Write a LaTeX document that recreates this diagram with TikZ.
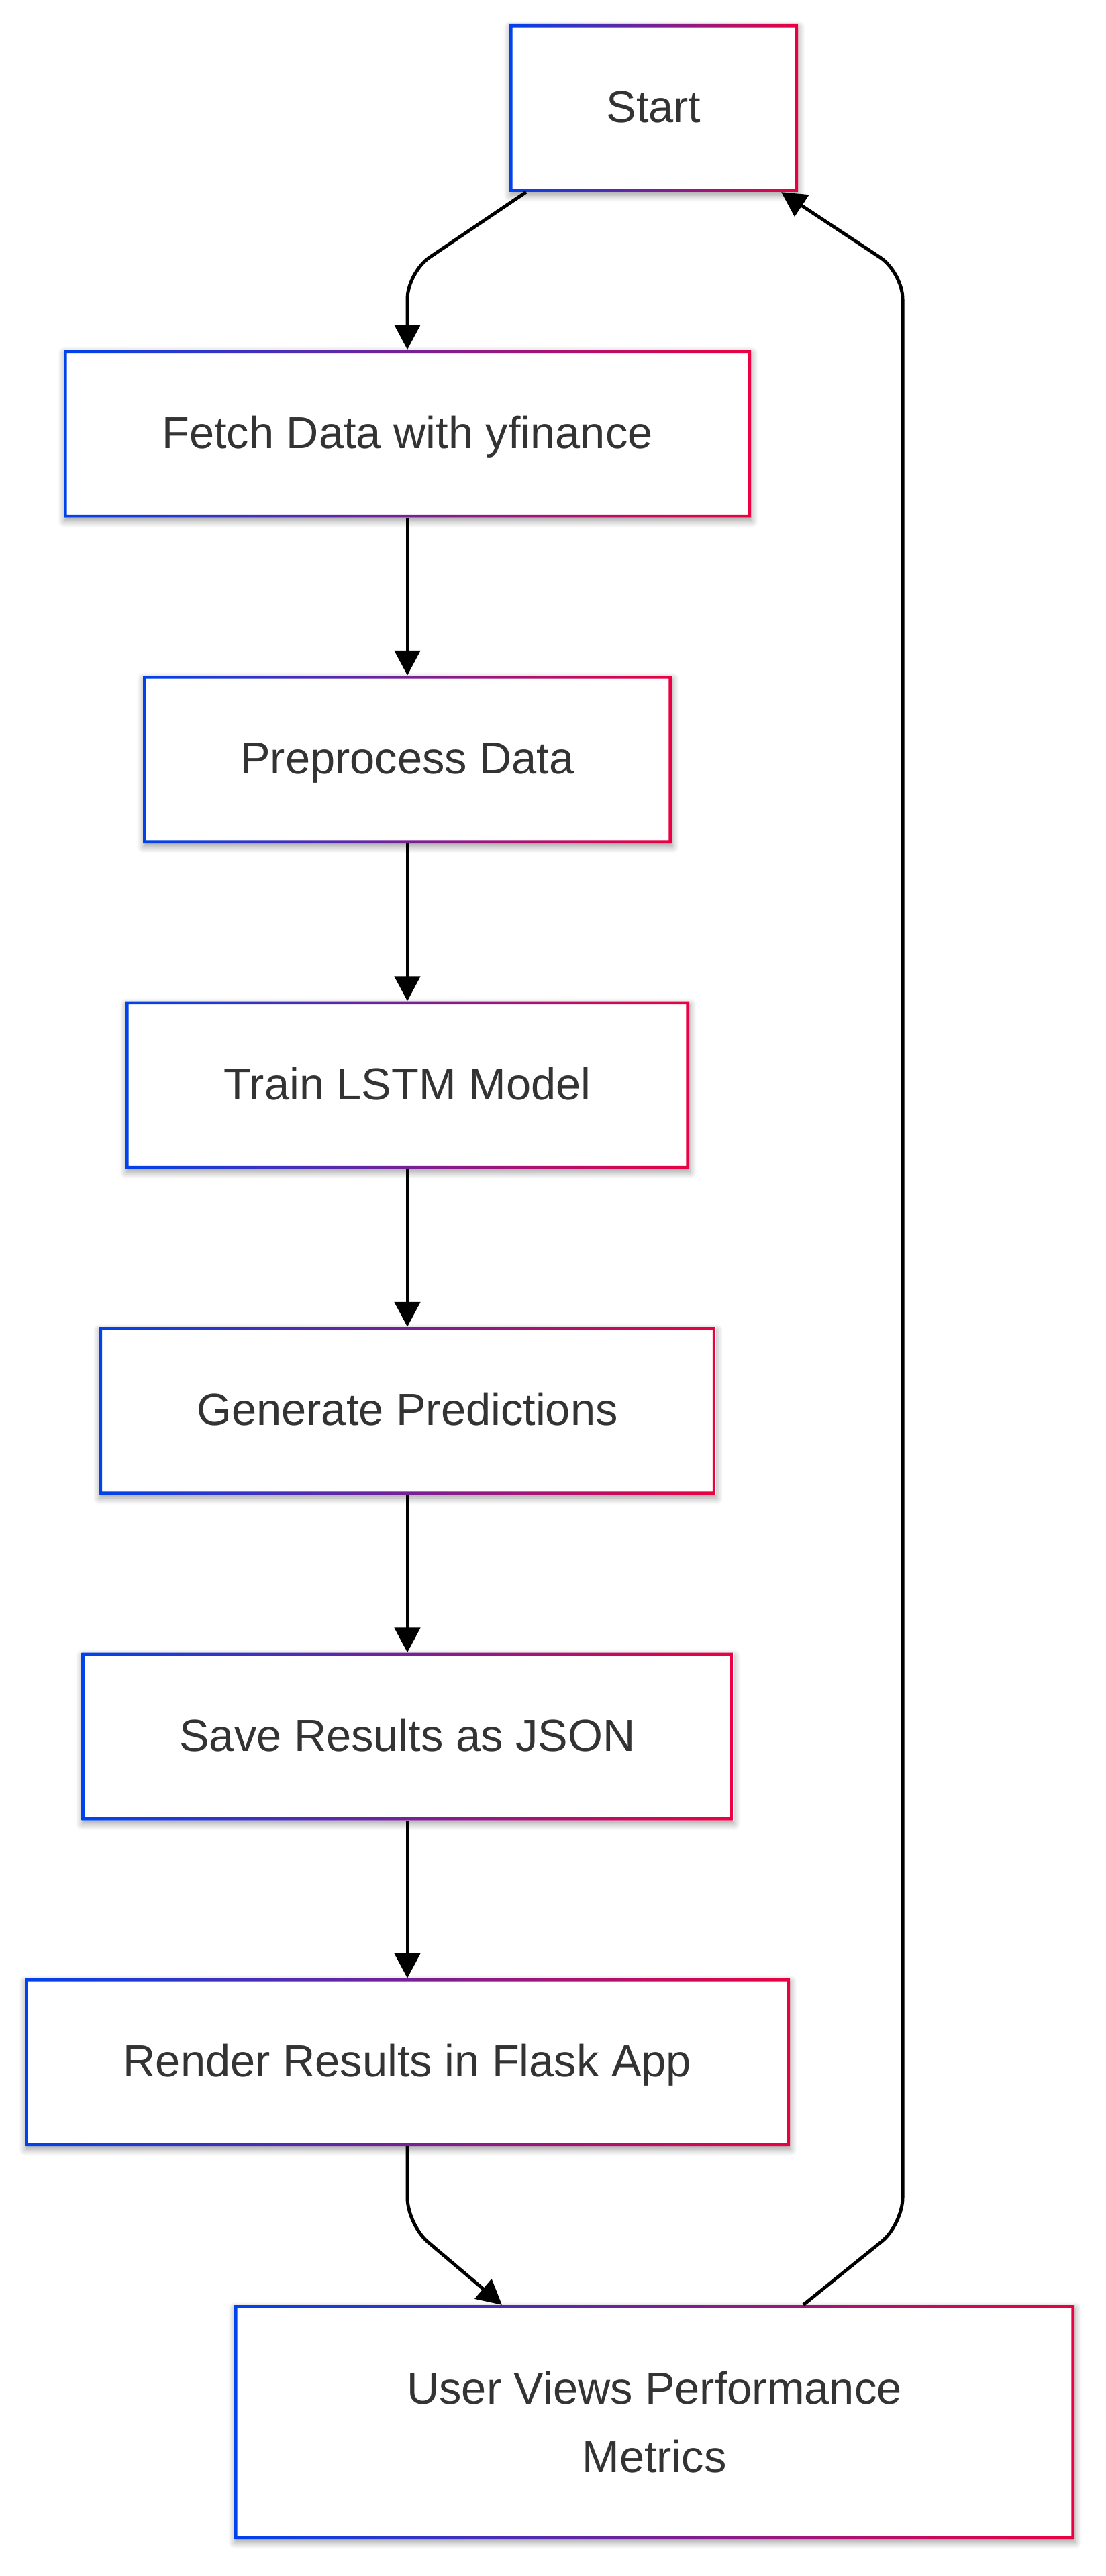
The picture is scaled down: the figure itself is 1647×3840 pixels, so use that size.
\documentclass[tikz,border=0pt]{standalone}
\usepackage{fontspec}
\setmainfont{Liberation Sans}
\usetikzlibrary{arrows.meta,shadows.blur}
\definecolor{gstart}{HTML}{0042EB}
\definecolor{gstop}{HTML}{EB0042}
\definecolor{txt}{HTML}{333333}
\tikzset{
  stepbox/.style={rectangle, fill=white, minimum height=250pt, inner sep=0pt,
    align=center, text=txt, font=\fontsize{66.8}{102}\selectfont,
    blur shadow={shadow xshift=1pt, shadow yshift=-5pt, shadow blur radius=10pt,
      shadow opacity=38, shadow blur steps=8},
    path picture={\shade[left color=gstart, right color=gstop, even odd rule]
      (path picture bounding box.south west) rectangle (path picture bounding box.north east)
      ([shift={(4.7pt,4.7pt)}]path picture bounding box.south west) rectangle
      ([shift={(-4.7pt,-4.7pt)}]path picture bounding box.north east);}},
  oneline/.style={text height=60pt, text depth=17pt},
  flow/.style={draw=black, line width=5pt, rounded corners=40pt,
    -{Triangle[length=37pt,width=38pt]}}
}
\begin{document}
\begin{tikzpicture}[x=1pt,y=-1pt]
\useasboundingbox (0,0) rectangle (1647,3840);
\node[stepbox, oneline, minimum width=430pt]  (start)  at (974,161)    {Start};
\node[stepbox, oneline, minimum width=1024pt] (fetch)  at (607,646.5)  {Fetch Data with yfinance};
\node[stepbox, oneline, minimum width=788pt]  (prep)   at (607,1132)   {Preprocess Data};
\node[stepbox, oneline, minimum width=840pt]  (train)  at (607,1617.5) {Train LSTM Model};
\node[stepbox, oneline, minimum width=919pt]  (gen)    at (607,2103)   {Generate Predictions};
\node[stepbox, oneline, minimum width=971pt]  (save)   at (607,2588.5) {Save Results as JSON};
\node[stepbox, oneline, minimum width=1140pt] (render) at (607,3074)   {Render Results in Flask App};
\node[stepbox, minimum width=1252pt, minimum height=349pt] (user) at (975,3610.5)
  {User Views Performance\\Metrics};
\coordinate (c1) at (607,406);
\coordinate (c2) at (607,3316);
\coordinate (c3) at (1345,3316);
\coordinate (c4) at (1345,406);
\draw[flow] ([xshift=-190pt]start.south) -- (c1) -- (fetch.north);
\draw[flow] (fetch) -- (prep);
\draw[flow] (prep) -- (train);
\draw[flow] (train) -- (gen);
\draw[flow] (gen) -- (save);
\draw[flow] (save) -- (render);
\draw[flow] (render.south) -- (c2) -- ([xshift=-227pt]user.north);
\draw[flow] ([xshift=222pt]user.north) -- (c3) -- (c4) -- ([xshift=190pt]start.south);
\end{tikzpicture}
\end{document}
